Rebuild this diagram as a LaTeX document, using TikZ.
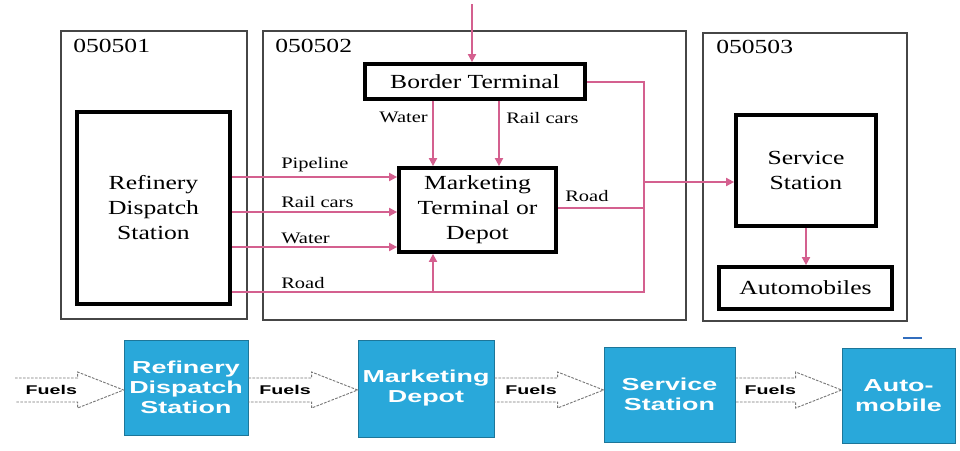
\documentclass[tikz,border=0pt]{standalone}
\usepackage{fontspec}
\setmainfont{Liberation Serif}[FakeStretch=1.28]
\newfontfamily\boxfont{Liberation Sans}[FakeStretch=1.55]
\usetikzlibrary{arrows.meta,fit,calc}
\definecolor{pinkline}{RGB}{212,96,143}
\definecolor{boxblue}{RGB}{41,168,218}
\definecolor{framegray}{RGB}{70,70,70}
\definecolor{fuelgray}{RGB}{120,120,120}
\definecolor{dashblue}{RGB}{50,110,190}
\tikzset{
 frame/.style={draw=framegray, line width=0.9pt, inner sep=0pt},
 stage/.style={draw=black, line width=2.8pt, inner sep=0pt, align=center, font=\fontsize{15}{18.75}\selectfont},
 flow/.style={draw=pinkline, line width=1.3pt},
 flowarr/.style={flow, -{Triangle[length=6pt,width=6pt]}},
 lbl/.style={font=\fontsize{12}{14}\selectfont, inner sep=0pt},
 code/.style={font=\fontsize{15}{18}\selectfont, inner sep=0pt, anchor=base west},
 bluebox/.style={fill=boxblue, draw=boxblue!70!black, line width=0.6pt, inner sep=0pt, align=center, text=white, font=\boxfont\bfseries\fontsize{13}{15}\selectfont},
 fuel/.style={draw=fuelgray, dash pattern=on 2pt off 1pt, line width=0.7pt},
 fuellbl/.style={font=\boxfont\bfseries\fontsize{9.5}{11}\selectfont, inner sep=0pt},
 size/.style 2 args={minimum width=#1, minimum height=#2},
}
\newcommand\fuelarrow[3]{%
 \coordinate (#3b) at ($(#2)+(-46,0)$);
 \draw[fuel] ($(#1)+(0,-12)$) -- ($(#2)+(-46,-12)$) -- ($(#2)+(-46,-18)$) -- (#2) -- ($(#2)+(-46,18)$) -- ($(#2)+(-46,12)$) -- ($(#1)+(0,12)$);
 \node[fuellbl] (#3) at ($(#1)!0.58!(#3b)$) {Fuels};}
\begin{document}
\begin{tikzpicture}[x=0.75pt,y=-0.75pt]
\useasboundingbox (0,0) rectangle (960,450);
% frames
\node[frame, fit={(61,31)(247,319)}] (f1) {};
\node[frame, fit={(263,31)(686,320)}] (f2) {};
\node[frame, fit={(703,33)(907,321)}] (f3) {};
\node[code] (c1) at (73,52) {050501};
\node[code] (c2) at (275,52) {050502};
\node[code] (c3) at (716,53) {050503};
% stages
\node[stage, size={114.75pt}{144pt}] (ref) at (153.5,208) {Refinery\\Dispatch\\Station};
\node[stage, size={165pt}{26.25pt}] (bord) at (475,81.5) {Border Terminal};
\node[stage, size={117.75pt}{63pt}] (mkt) at (477.5,210) {Marketing\\Terminal or\\Depot};
\node[stage, size={105pt}{83.25pt}] (svc) at (806,170.5) {Service\\Station};
\node[stage, size={129.75pt}{31.5pt}] (auto) at (805.5,288) {Automobiles};
% helper coordinates
\coordinate (in) at (472,4);
\coordinate (xw) at (433,0);
\coordinate (xr) at (499,0);
\coordinate (xv) at (644,0);
\coordinate (yp) at (0,177);
\coordinate (yc) at (0,212);
\coordinate (yw) at (0,247);
\coordinate (yr) at (0,292);
\coordinate (yb) at (0,82);
\coordinate (ym) at (0,208);
\coordinate (ys) at (0,182);
% connectors
\draw[flowarr] (in) -- (in |- bord.north);
\draw[flowarr] (xw |- bord.south) -- (xw |- mkt.north);
\draw[flowarr] (xr |- bord.south) -- (xr |- mkt.north);
\draw[flowarr] (ref.east |- yp) -- (mkt.west |- yp);
\draw[flowarr] (ref.east |- yc) -- (mkt.west |- yc);
\draw[flowarr] (ref.east |- yw) -- (mkt.west |- yw);
\draw[flow] (ref.east |- yr) -- (xv |- yr) -- (xv |- yb) -- (bord.east |- yb);
\draw[flowarr] (xw |- yr) -- (xw |- mkt.south);
\draw[flow] (mkt.east |- ym) -- (xv |- ym);
\draw[flowarr] (xv |- ys) -- (svc.west |- ys);
\draw[flowarr] (svc.south) -- (svc.south |- auto.north);
% labels
\node[lbl, anchor=base west] (lp) at (281,168) {Pipeline};
\node[lbl, anchor=base west] (lc) at (281,207) {Rail cars};
\node[lbl, anchor=base west] (lw) at (281,243) {Water};
\node[lbl, anchor=base west] (lr) at (281,288) {Road};
\node[lbl, anchor=base east] (lw2) at (428,122) {Water};
\node[lbl, anchor=base west] (lc2) at (506,123) {Rail cars};
\node[lbl, anchor=base west] (lr2) at (565,201) {Road};
% bottom row
\node[bluebox, size={93pt}{71.25pt}] (ref2) at (186,387.5) {Refinery\\Dispatch\\Station};
\node[bluebox, size={102pt}{72.75pt}] (mkt2) at (426,388.5) {Marketing\\Depot};
\node[bluebox, size={98.25pt}{71.25pt}] (svc2) at (669.5,394.5) {Service\\Station};
\node[bluebox, size={84.75pt}{71.25pt}] (auto2) at (898.5,395.5) {Auto-\\mobile};
\coordinate (yf) at (0,390);
\coordinate (s1) at (15,390);
\coordinate (t1) at (ref2.west |- yf);
\coordinate (s2) at (ref2.east |- yf);
\coordinate (t2) at (mkt2.west |- yf);
\coordinate (s3) at (mkt2.east |- yf);
\coordinate (t3) at (svc2.west |- yf);
\coordinate (s4) at (svc2.east |- yf);
\coordinate (t4) at (auto2.west |- yf);
\fuelarrow{s1}{t1}{fa}
\fuelarrow{s2}{t2}{fb}
\fuelarrow{s3}{t3}{fc}
\fuelarrow{s4}{t4}{fd}
\draw[line width=1.5pt, draw=dashblue] (903,338) -- (922,338);
\end{tikzpicture}
\end{document}
